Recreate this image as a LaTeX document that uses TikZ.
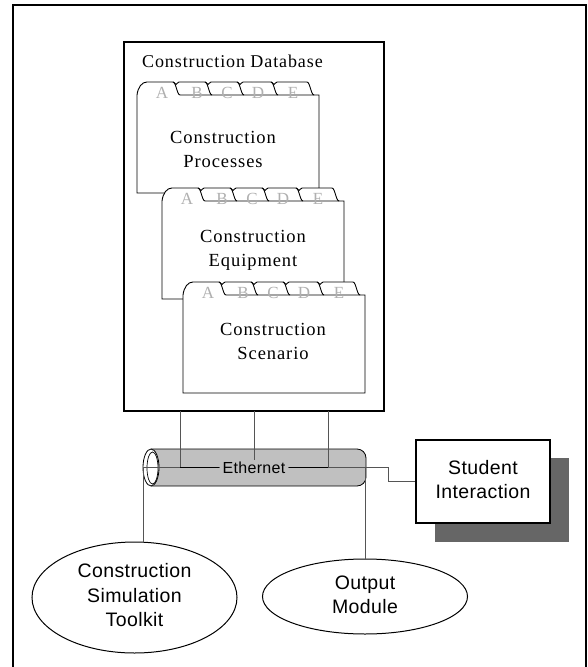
\documentclass[tikz,border=0pt]{standalone}
\usepackage{fontspec}
\setmainfont{Liberation Serif}
\newfontfamily\serifsp{Liberation Serif}[LetterSpace=5]
\newfontfamily\sanssp{Liberation Sans}[LetterSpace=2]
\usetikzlibrary{shapes.geometric}
\definecolor{cylgray}{HTML}{C0C0C0}
\definecolor{shadowgray}{HTML}{666666}
\definecolor{lettergray}{HTML}{B0B0B0}
\definecolor{linegray}{HTML}{555555}
\tikzset{
  frameline/.style={line width=1.3pt, draw=black},
  tabletter/.style={anchor=base, inner sep=0pt, text=lettergray, font=\fontsize{17}{17}\selectfont},
  foldertext/.style={anchor=base, inner sep=0pt, font=\serifsp\fontsize{18.5}{24}\selectfont},
  sanstext/.style={font=\sanssp\fontsize{19.5}{24}\selectfont},
  wire/.style={draw=linegray, line width=0.8pt},
  blackwire/.style={draw=black, line width=1.1pt},
  folderpic/.pic={
    \path[draw=black, fill=white, line width=0.9pt]
      (0,13) .. controls (1,5) and (5,0) .. (10,0)
      -- (36,0) .. controls (37.5,0) and (38,2.5) .. (39,2.5) .. controls (40,2.5) and (40.5,0) .. (42,0)
      -- (68,0) .. controls (69.5,0) and (70,2.5) .. (71,2.5) .. controls (72,2.5) and (72.5,0) .. (74,0)
      -- (100,0) .. controls (101.5,0) and (102,2.5) .. (103,2.5) .. controls (104,2.5) and (104.5,0) .. (106,0)
      -- (134,0) .. controls (135.5,0) and (136,2.5) .. (137,2.5) .. controls (138,2.5) and (138.5,0) .. (140,0)
      -- (170,0) .. controls (173,0) and (174,13) .. (177,13)
      -- (182,13) -- (182,111) -- (0,111) -- cycle;
    \draw[line width=0.9pt] (36,0) .. controls (39,0) and (40,13) .. (43,13) -- (177,13);
    \draw[line width=0.9pt] (68,0) .. controls (71,0) and (72,13) .. (75,13);
    \draw[line width=0.9pt] (100,0) .. controls (103,0) and (104,13) .. (107,13);
    \draw[line width=0.9pt] (134,0) .. controls (137,0) and (138,13) .. (141,13);
    \node[tabletter] (-a) at (25,16.5) {A};
    \node[tabletter] (-b) at (60,16.5) {B};
    \node[tabletter] (-c) at (90,16.5) {C};
    \node[tabletter] (-d) at (121,16.5) {D};
    \node[tabletter] (-e) at (156,16.5) {E};
  }
}
\begin{document}
\begin{tikzpicture}[x=1pt, y=-1pt]
\useasboundingbox (0,0) rectangle (588,667);
% outer frame
\draw[frameline] (13,672) -- (13,5) -- (586,5) -- (586,672);
% database box
\node[draw=black, line width=1.3pt, minimum width=260, minimum height=369, inner sep=0pt] (db) at (254,226.5) {};
\node[anchor=base west, inner sep=0pt, font=\serifsp\fontsize{18}{24}\selectfont] (dbtitle) at (142,67) {Construction Database};
% folders
\pic (f1) at (137,82) {folderpic};
\pic (f2) at (162,188) {folderpic};
\pic (f3) at (183,282) {folderpic};
\node[foldertext] (t1) at (223,143) {\begin{tabular}[t]{@{}c@{}}Construction\\Processes\end{tabular}};
\node[foldertext] (t2) at (253,242) {\begin{tabular}[t]{@{}c@{}}Construction\\Equipment\end{tabular}};
\node[foldertext] (t3) at (273,335) {\begin{tabular}[t]{@{}c@{}}Construction\\Scenario\end{tabular}};
% cylinder
\path[draw=black, fill=cylgray, line width=0.8pt, rounded corners=9pt] (151,449) -- (366,449) -- (366,486) [sharp corners] -- (151,486);
\draw[fill=white, line width=0.8pt] (151,467.5) ellipse [x radius=8, y radius=18.5];
\draw[line width=0.7pt] (152.5,468) ellipse [x radius=5.5, y radius=16];
% coordinates
\coordinate (d1) at (180,411);
\coordinate (d2) at (254,411);
\coordinate (d3) at (328,411);
\coordinate (c0) at (143,467.5);
\coordinate (c1) at (388,467.5);
\coordinate (c2) at (365,467.5);
% student interaction
\fill[shadowgray] (435,458) rectangle (569,542);
\node[draw=black, fill=white, line width=1.2pt, minimum width=134, minimum height=83, inner sep=0pt, sanstext] (student) at (483,481.5)
  {\begin{tabular}{@{}c@{}}Student\\Interaction\end{tabular}};
% ellipses
\node[ellipse, draw=black, line width=1pt, minimum width=205, minimum height=111, inner sep=0pt, font=\sanssp\fontsize{19.5}{24.5}\selectfont] (toolkit) at (134.5,597.5)
  {\begin{tabular}{@{}c@{}}Construction\\Simulation\\Toolkit\end{tabular}};
\node[ellipse, draw=black, line width=1pt, minimum width=205, minimum height=75, inner sep=0pt, sanstext] (output) at (365,596.5)
  {\begin{tabular}{@{}c@{}}Output\\Module\end{tabular}};
% network lines
\draw[wire] (c0) -- (c1) |- (student.west);
\node[fill=cylgray, inner xsep=3pt, inner ysep=1pt, font=\sanssp\fontsize{16}{16}\selectfont] (eth) at (254,467.5) {Ethernet};
\draw[wire] (d1) -- (d1 |- eth.west);
\draw[wire] (d3) -- (d3 |- eth.east);
\draw[blackwire] (d1 |- eth.west) -- (eth.west);
\draw[blackwire] (d3 |- eth.east) -- (eth.east);
\draw[wire] (d2) -- (eth.north);
\draw[wire] (c0) -- (c0 |- toolkit.north);
\draw[wire] (c2) -- (output.north);
\end{tikzpicture}
\end{document}
